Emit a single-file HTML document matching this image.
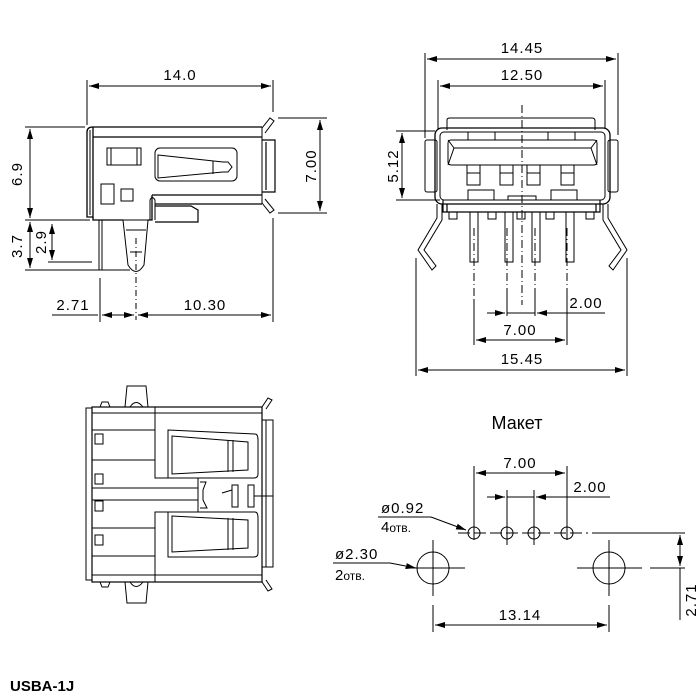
<!DOCTYPE html>
<html><head><meta charset="utf-8"><style>
html,body{margin:0;padding:0;background:#fff;width:700px;height:700px;overflow:hidden}
svg{display:block}
text{font-family:"Liberation Sans","DejaVu Sans",sans-serif;fill:#000}
.t{font-size:15px;letter-spacing:1px}
</style></head><body>
<svg width="700" height="700" viewBox="0 0 700 700" xmlns="http://www.w3.org/2000/svg">
<defs>
<marker id="a" viewBox="0 0 10 6" refX="10" refY="3" markerWidth="10" markerHeight="6" orient="auto-start-reverse" markerUnits="userSpaceOnUse"><path d="M0,0 L10,3 L0,6 z" fill="#000"/></marker>
</defs>
<g stroke="#000" stroke-width="1" fill="none">
<line x1="87" y1="80" x2="87" y2="125"/>
<line x1="273" y1="80" x2="273" y2="112"/>
<line x1="89" y1="86" x2="271" y2="86" marker-start="url(#a)" marker-end="url(#a)"/>
<path d="M93,127 L262,127 M93,137 L262,137 M87,132 Q87,127 93,127 L93,217 L87,217 Z" stroke-width="1.3"/>
<line x1="90" y1="130" x2="90" y2="215"/>
<line x1="93" y1="127" x2="93" y2="220"/>
<path d="M93,217 L93,220 L123,220 M148,220 L152,220 L152,195" stroke-width="1.3"/>
<path d="M152,195 L262,195 M155,204 L262,204" stroke-width="1.3"/>
<path d="M262,127 L262,204"/>
<path d="M262,140 L275,140 L275,192 L262,192 M266,142 L266,190" stroke-width="1.2"/>
<path d="M262,128 L270,118 L274,121 L265,133" />
<path d="M262,203 L270,213 L274,210 L265,199" />
<rect x="107" y="148" width="34" height="17"/>
<line x1="111" y1="148" x2="111" y2="165"/><line x1="137" y1="148" x2="137" y2="165"/>
<rect x="155" y="148" width="82" height="33" rx="5"/>
<path d="M158,155 L223,162 L228,162 L232,167 L228,172 L223,172 L158,178 Z M158,155 L158,178 M213,161 L213,174"/>
<rect x="101" y="184" width="13" height="20"/>
<rect x="121" y="189" width="12" height="12"/>
<path d="M150,220 L150,200 Q152,195 155,200 L155,220" />
<path d="M155,206 L191,206 L198,210 L198,222 L155,222" stroke-width="1.2"/>
<path d="M123,220 L128,265 Q136,278 144,265 L148,220 Z M126,230 L146,230 M130,252 L142,252" />
<line x1="136" y1="238" x2="136" y2="320" stroke-dasharray="6,3,1,3"/>
<rect x="99" y="220" width="3" height="50"/>
<line x1="25" y1="127" x2="85" y2="127"/>
<line x1="25" y1="220" x2="90" y2="220"/>
<line x1="48" y1="262" x2="92" y2="262"/>
<line x1="25" y1="270" x2="130" y2="270"/>
<line x1="30" y1="129" x2="30" y2="218" marker-start="url(#a)" marker-end="url(#a)"/>
<line x1="30" y1="222" x2="30" y2="268" marker-start="url(#a)" marker-end="url(#a)"/>
<line x1="52" y1="224" x2="52" y2="260" marker-start="url(#a)" marker-end="url(#a)"/>
<line x1="278" y1="118" x2="327" y2="118"/>
<line x1="278" y1="213" x2="327" y2="213"/>
<line x1="320" y1="120" x2="320" y2="211" marker-start="url(#a)" marker-end="url(#a)"/>
<line x1="100" y1="278" x2="100" y2="322"/>
<line x1="273" y1="218" x2="273" y2="322"/>
<line x1="52" y1="315" x2="98" y2="315"/>
<line x1="102" y1="315" x2="134" y2="315" marker-start="url(#a)" marker-end="url(#a)"/>
<line x1="138" y1="315" x2="271" y2="315" marker-start="url(#a)" marker-end="url(#a)"/>

<line x1="425" y1="53" x2="425" y2="138"/>
<line x1="618" y1="53" x2="618" y2="135"/>
<line x1="427" y1="59" x2="616" y2="59" marker-start="url(#a)" marker-end="url(#a)"/>
<line x1="438" y1="80" x2="438" y2="130"/>
<line x1="605" y1="80" x2="605" y2="128"/>
<line x1="440" y1="86" x2="603" y2="86" marker-start="url(#a)" marker-end="url(#a)"/>
<path d="M447,130 L447,120 Q447,118 450,118 L592,118 Q595,118 595,121 L595,130"/>
<rect x="435" y="128" width="175" height="76" rx="7" stroke-width="1.3"/>
<rect x="440" y="132" width="165" height="68" rx="4"/>
<path d="M468,132 L468,140 M495,132 L495,140 M548,132 L548,140 M575,132 L575,140"/>
<rect x="448" y="140" width="149" height="25" rx="3"/>
<path d="M448,165 L454,148 L591,148 L597,165 M454,148 L448,140 M591,148 L597,140"/>
<rect x="467" y="165" width="13" height="20"/><line x1="467" y1="173" x2="480" y2="173"/>
<rect x="500" y="165" width="13" height="20"/><line x1="500" y1="173" x2="513" y2="173"/>
<rect x="527" y="165" width="13" height="20"/><line x1="527" y1="173" x2="540" y2="173"/>
<rect x="561" y="165" width="13" height="20"/><line x1="561" y1="173" x2="574" y2="173"/>
<rect x="468" y="190" width="26" height="10"/><rect x="551" y="190" width="26" height="10"/><rect x="508" y="196" width="28" height="4"/>
<path d="M443,200 L443,212 L600,212 L600,200 M447,212 L447,204 M596,212 L596,204" stroke-width="1.2"/>
<rect x="425" y="140" width="12" height="52" rx="2"/>
<rect x="608" y="140" width="10" height="52" rx="2"/>
<rect x="449" y="212" width="8" height="7"/><rect x="488" y="212" width="8" height="7"/><rect x="517" y="212" width="8" height="7"/><rect x="546" y="212" width="8" height="7"/><rect x="586" y="212" width="8" height="7"/>
<path d="M470,212 L470,262 L478,262 L478,212 M505,212 L505,262 L513,262 L513,212 M532,212 L532,262 L540,262 L540,212 M566,212 L566,262 L574,262 L574,212"/>
<path d="M437,204 L437,218 L418,250 L432,270 L436,266 L424,250 L442,220 L442,204" />
<path d="M608,204 L608,218 L627,250 L613,270 L609,266 L621,250 L603,220 L603,204" />
<line x1="522" y1="105" x2="522" y2="305" stroke-dasharray="8,3,1,3"/>
<line x1="474" y1="228" x2="474" y2="345" stroke-dasharray="8,3,1,3"/>
<line x1="507" y1="228" x2="507" y2="316" stroke-dasharray="8,3,1,3"/>
<line x1="535" y1="228" x2="535" y2="316" stroke-dasharray="8,3,1,3"/>
<line x1="567" y1="228" x2="567" y2="345" stroke-dasharray="8,3,1,3"/>
<line x1="474" y1="300" x2="474" y2="345"/><line x1="507" y1="290" x2="507" y2="316"/><line x1="535" y1="290" x2="535" y2="316"/><line x1="567" y1="290" x2="567" y2="345"/>
<line x1="487" y1="313" x2="505" y2="313" marker-end="url(#a)"/>
<line x1="507" y1="313" x2="535" y2="313"/>
<line x1="605" y1="313" x2="537" y2="313" marker-end="url(#a)"/>
<line x1="476" y1="340" x2="565" y2="340" marker-start="url(#a)" marker-end="url(#a)"/>
<line x1="416" y1="258" x2="416" y2="376"/>
<line x1="627" y1="258" x2="627" y2="376"/>
<line x1="418" y1="370" x2="625" y2="370" marker-start="url(#a)" marker-end="url(#a)"/>
<line x1="396" y1="131" x2="435" y2="131"/>
<line x1="396" y1="200" x2="440" y2="200"/>
<line x1="402" y1="133" x2="402" y2="198" marker-start="url(#a)" marker-end="url(#a)"/>

<rect x="86" y="408" width="6" height="172"/>
<rect x="92" y="407" width="170" height="175" stroke-width="1.2"/>
<path d="M92,413 L262,413 M92,575 L262,575"/>
<path d="M155,407 L155,478 L198,478 L198,512 L155,512 L155,582"/>
<path d="M92,430 L155,430 M92,460 L155,460 M92,488 L198,488 M92,500 L198,500 M92,528 L155,528 M92,556 L155,556"/>
<rect x="95" y="434" width="8" height="10"/><rect x="95" y="474" width="8" height="10"/><rect x="95" y="501" width="8" height="10"/><rect x="95" y="535" width="8" height="10"/>
<path d="M125,407 L127,386 L146,386 L148,407 M130,407 Q136,398 143,407"/>
<path d="M125,582 L127,603 L146,603 L148,582 M130,582 Q136,591 143,582"/>
<path d="M100,407 L102,402 L108,402 L110,407 M100,582 L102,587 L108,587 L110,582"/>
<path d="M168,430 L255,434 Q258,434 258,440 L258,474 Q258,478 254,478 L168,478 Z M172,436 L172,474 L248,470 L248,442 Z M228,440 L228,472 M233,440 L233,472"/>
<path d="M168,512 L255,512 Q258,512 258,518 L258,553 Q258,557 254,557 L168,557 Z M172,516 L172,552 L248,548 L248,520 Z M228,518 L228,550 M233,518 L233,550"/>
<rect x="262" y="420" width="11" height="147"/>
<line x1="266" y1="420" x2="266" y2="567"/>
<path d="M262,407 L268,398 L272,400 L266,409 M262,582 L268,591 L272,589 L266,580"/>
<path d="M200,482 L206,482 L203,490 L203,500 L207,508 L200,508"/>
<rect x="232" y="485" width="6" height="22"/><rect x="248" y="485" width="6" height="22"/>
<path d="M222,493 L232,490 M254,496 L273,496"/>
<line x1="474" y1="466" x2="474" y2="540"/><line x1="567" y1="466" x2="567" y2="540"/>
<line x1="476" y1="473" x2="565" y2="473" marker-start="url(#a)" marker-end="url(#a)"/>
<line x1="507" y1="490" x2="507" y2="545"/><line x1="534" y1="490" x2="534" y2="545"/>
<line x1="487" y1="497" x2="505" y2="497" marker-end="url(#a)"/>
<line x1="507" y1="497" x2="534" y2="497"/>
<line x1="610" y1="497" x2="536" y2="497" marker-end="url(#a)"/>
<circle cx="474" cy="533" r="6"/><circle cx="507" cy="533" r="6"/><circle cx="534" cy="533" r="6"/><circle cx="567" cy="533" r="6"/>
<line x1="458" y1="533" x2="588" y2="533" stroke-dasharray="12,4"/>
<line x1="592" y1="533" x2="685" y2="533"/>
<circle cx="433" cy="568" r="16"/><circle cx="609" cy="568" r="16"/>
<path d="M405,568 L465,568 M433,540 L433,596 M577,568 L642,568 M609,540 L609,596 M650,568 L685,568"/>
<line x1="680" y1="535" x2="680" y2="566" marker-start="url(#a)" marker-end="url(#a)"/>
<line x1="680" y1="568" x2="680" y2="620"/>
<line x1="378" y1="517" x2="431" y2="517"/>
<line x1="431" y1="517" x2="466" y2="530" marker-end="url(#a)"/>
<line x1="333" y1="563" x2="390" y2="563"/>
<line x1="390" y1="563" x2="416" y2="568" marker-end="url(#a)"/>
<line x1="433" y1="605" x2="433" y2="632"/><line x1="609" y1="605" x2="609" y2="632"/>
<line x1="435" y1="625" x2="607" y2="625" marker-start="url(#a)" marker-end="url(#a)"/>
</g>
<text class="t" x="180" y="80" text-anchor="middle">14.0</text>
<text class="t" x="22" y="174" text-anchor="middle" transform="rotate(-90 22 174)">6.9</text>
<text class="t" x="22" y="246" text-anchor="middle" transform="rotate(-90 22 246)">3.7</text>
<text class="t" x="46" y="242" text-anchor="middle" transform="rotate(-90 46 242)">2.9</text>
<text class="t" x="316" y="166" text-anchor="middle" transform="rotate(-90 316 166)">7.00</text>
<text class="t" x="73" y="310" text-anchor="middle">2.71</text>
<text class="t" x="205" y="310" text-anchor="middle">10.30</text>
<text class="t" x="522" y="53" text-anchor="middle">14.45</text>
<text class="t" x="522" y="80" text-anchor="middle">12.50</text>
<text class="t" x="398" y="166" text-anchor="middle" transform="rotate(-90 398 166)">5.12</text>
<text class="t" x="586" y="308" text-anchor="middle">2.00</text>
<text class="t" x="520" y="335" text-anchor="middle">7.00</text>
<text class="t" x="522" y="364" text-anchor="middle">15.45</text>
<text x="517" y="429" text-anchor="middle" style="font-size:18px">Макет</text>
<text class="t" x="520" y="468" text-anchor="middle">7.00</text>
<text class="t" x="590" y="492" text-anchor="middle">2.00</text>
<text class="t" x="381" y="513">ø0.92</text>
<text x="381" y="532" style="font-size:15px">4<tspan style="font-size:12px">отв.</tspan></text>
<text class="t" x="335" y="559">ø2.30</text>
<text x="335" y="580" style="font-size:15px">2<tspan style="font-size:12px">отв.</tspan></text>
<text class="t" x="520" y="620" text-anchor="middle">13.14</text>
<text class="t" x="696" y="600" text-anchor="middle" transform="rotate(-90 696 600)">2.71</text>
<text x="10" y="691" style="font-size:15px;font-weight:bold">USBA-1J</text>
</svg>
</body></html>
